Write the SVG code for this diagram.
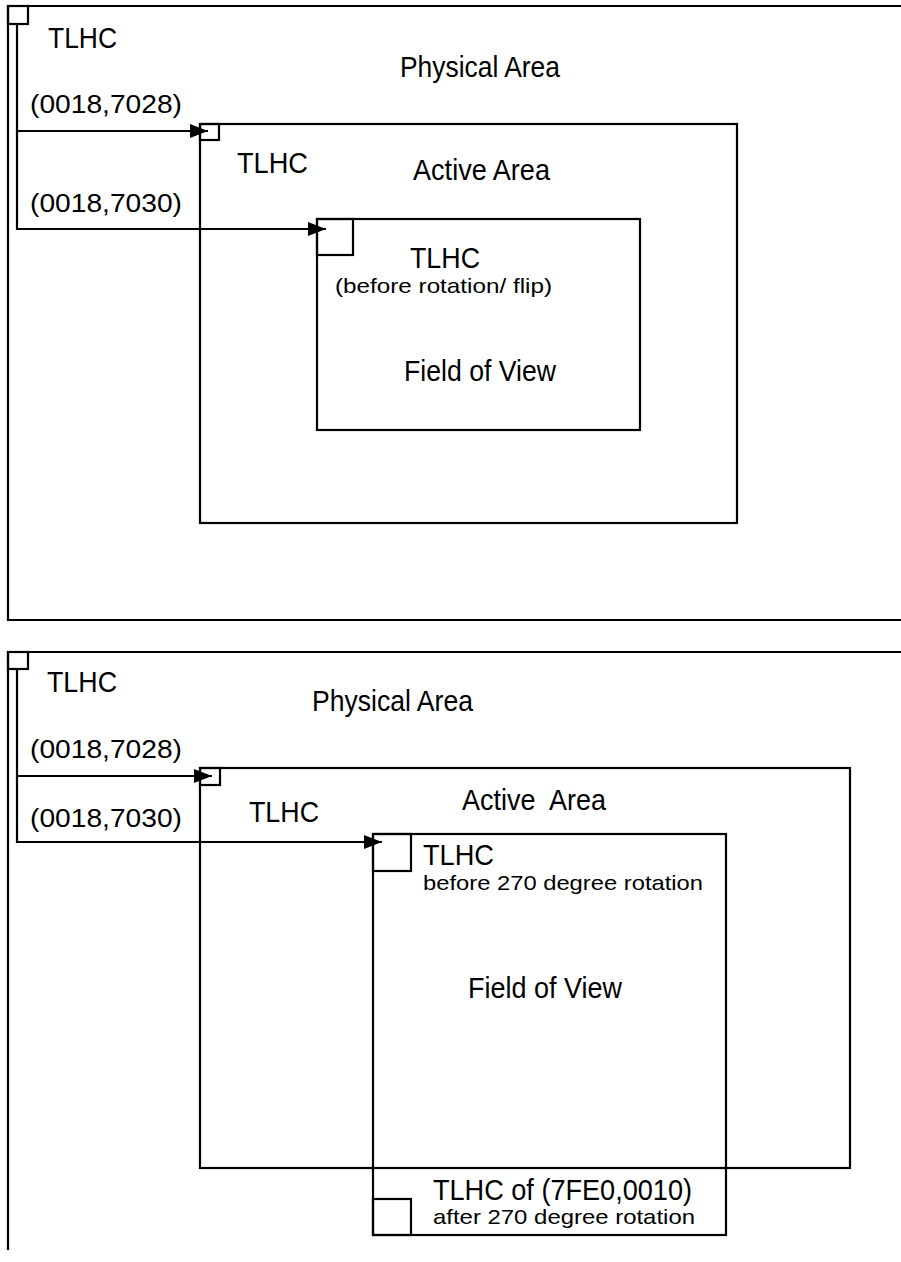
<svg xmlns="http://www.w3.org/2000/svg" width="901" height="1262" viewBox="0 0 901 1262">
<style>
.ln{fill:none;stroke:#000;stroke-width:2.2}
.t{font-family:"Liberation Sans",Arial,sans-serif;font-size:30px;fill:#000}
.n{font-family:"Liberation Sans",Arial,sans-serif;font-size:25px;fill:#000}
.s{font-family:"Liberation Sans",Arial,sans-serif;font-size:21px;fill:#000}
</style>
<defs>
<marker id="ah" markerUnits="userSpaceOnUse" markerWidth="18" markerHeight="14" refX="18" refY="7" orient="auto">
<path d="M0,0 L18,7 L0,14 z" fill="#000"/>
</marker>
</defs>
<rect width="901" height="1262" fill="#fff"/>

<!-- Top panel -->
<g id="physical1">
<path class="ln" d="M905,6 H8 V620 H905"/>
<rect class="ln" x="8" y="6" width="20" height="18"/>
<text class="t" x="48" y="48" textLength="69" lengthAdjust="spacingAndGlyphs">TLHC</text>
<text class="t" x="400" y="77" textLength="160" lengthAdjust="spacingAndGlyphs">Physical Area</text>
<text class="n" x="30" y="113" textLength="152" lengthAdjust="spacingAndGlyphs">(0018,7028)</text>
<text class="n" x="30" y="212" textLength="152" lengthAdjust="spacingAndGlyphs">(0018,7030)</text>
</g>
<g id="active1">
<rect class="ln" x="200" y="124" width="537" height="399"/>
<rect class="ln" x="200" y="124" width="19" height="16"/>
<text class="t" x="237" y="173" textLength="71" lengthAdjust="spacingAndGlyphs">TLHC</text>
<text class="t" x="413" y="180" textLength="137" lengthAdjust="spacingAndGlyphs">Active Area</text>
</g>
<g id="fov1">
<rect class="ln" x="317" y="219" width="323" height="211"/>
<rect class="ln" x="317" y="219" width="36" height="36"/>
<text class="t" x="410" y="268" textLength="70" lengthAdjust="spacingAndGlyphs">TLHC</text>
<text class="s" x="335" y="293" textLength="217" lengthAdjust="spacingAndGlyphs">(before rotation/ flip)</text>
<text class="t" x="404" y="381" textLength="152" lengthAdjust="spacingAndGlyphs">Field of View</text>
</g>

<!-- Bottom panel -->
<g id="physical2">
<path class="ln" d="M905,652 H8 V1250"/>
<rect class="ln" x="8" y="652" width="20" height="17"/>
<text class="t" x="47" y="692" textLength="70" lengthAdjust="spacingAndGlyphs">TLHC</text>
<text class="t" x="312" y="711" textLength="161" lengthAdjust="spacingAndGlyphs">Physical Area</text>
<text class="n" x="30" y="758" textLength="152" lengthAdjust="spacingAndGlyphs">(0018,7028)</text>
<text class="n" x="30" y="827" textLength="152" lengthAdjust="spacingAndGlyphs">(0018,7030)</text>
</g>
<g id="active2">
<rect class="ln" x="200" y="768" width="650" height="400"/>
<rect class="ln" x="200" y="768" width="20" height="17"/>
<text class="t" x="249" y="822" textLength="70" lengthAdjust="spacingAndGlyphs">TLHC</text>
<text class="t" x="462" y="810" textLength="144" lengthAdjust="spacingAndGlyphs" xml:space="preserve">Active  Area</text>
</g>
<g id="fov2">
<rect class="ln" x="373" y="834" width="353" height="401"/>
<rect class="ln" x="373" y="834" width="38" height="37"/>
<rect class="ln" x="373" y="1199" width="38" height="36"/>
<text class="t" x="423" y="865" textLength="71" lengthAdjust="spacingAndGlyphs">TLHC</text>
<text class="s" x="423" y="890" textLength="280" lengthAdjust="spacingAndGlyphs">before 270 degree rotation</text>
<text class="t" x="468" y="998" textLength="154" lengthAdjust="spacingAndGlyphs">Field of View</text>
<text class="t" x="433" y="1200" textLength="259" lengthAdjust="spacingAndGlyphs">TLHC of (7FE0,0010)</text>
<text class="s" x="433" y="1224" textLength="262" lengthAdjust="spacingAndGlyphs">after 270 degree rotation</text>
</g>

<g id="connectors">
<path class="ln" d="M17,24 V131 H208" marker-end="url(#ah)"/>
<path class="ln" d="M17,131 V229 H326" marker-end="url(#ah)"/>
<path class="ln" d="M17,669 V776 H212" marker-end="url(#ah)"/>
<path class="ln" d="M17,776 V842 H382" marker-end="url(#ah)"/>
</g>
</svg>
